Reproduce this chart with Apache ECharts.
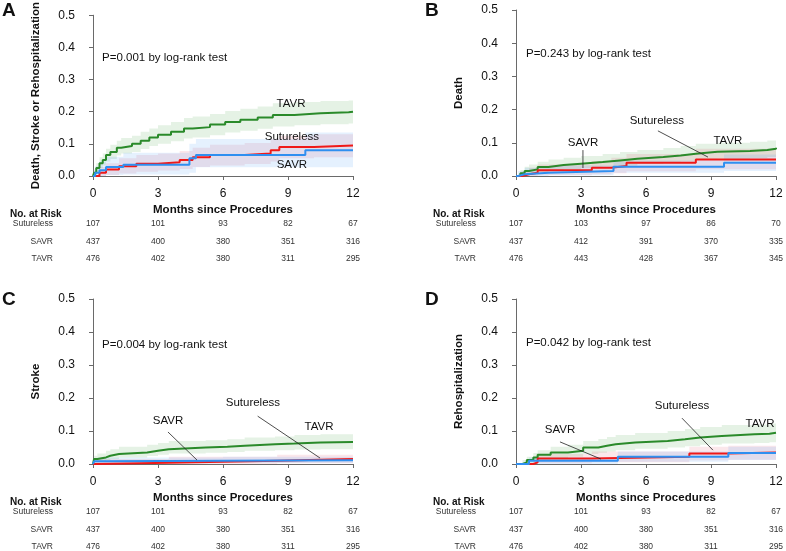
<!DOCTYPE html>
<html><head><meta charset="utf-8">
<script src="https://cdn.jsdelivr.net/npm/echarts@6/dist/echarts.min.js"></script>
<style>html,body{margin:0;padding:0;background:#fff}#c{width:786px;height:551px}</style>
</head><body><div id="c"></div>
<script>
// ---------- DATA ----------
const monthTicks = [0, 3, 6, 9, 12];
const groups = ['Sutureless', 'SAVR', 'TAVR'];
const panelLetters = ['A', 'B', 'C', 'D'];
const yTitles = ['Death, Stroke or Rehospitalization', 'Death', 'Stroke', 'Rehospitalization'];
const pTexts = ['P=0.001 by log-rank test', 'P=0.243 by log-rank test', 'P=0.004 by log-rank test', 'P=0.042 by log-rank test'];

// numbers at risk (A, C, D share the same table)
const riskACD_Sutureless = [107, 101, 93, 82, 67];
const riskACD_SAVR = [437, 400, 380, 351, 316];
const riskACD_TAVR = [476, 402, 380, 311, 295];
const riskB_Sutureless = [107, 103, 97, 86, 70];
const riskB_SAVR = [437, 412, 391, 370, 335];
const riskB_TAVR = [476, 443, 428, 367, 345];

// Kaplan-Meier rows: [month, estimate, lower CI, upper CI]
const A_TAVR = [[0,0,0,0],[0.05,0.01,0,0.02],[0.15,0.025,0.012,0.04],[0.3,0.04,0.025,0.058],[0.45,0.05,0.033,0.07],[0.6,0.065,0.045,0.085],[0.8,0.075,0.053,0.097],[1.1,0.088,0.064,0.11],[1.3,0.093,0.07,0.118],[1.8,0.1,0.075,0.125],[2.2,0.11,0.084,0.138],[2.6,0.12,0.093,0.148],[3.0,0.128,0.1,0.158],[3.6,0.138,0.108,0.168],[4.2,0.148,0.117,0.18],[4.6,0.152,0.12,0.185],[5.4,0.16,0.127,0.193],[6.1,0.168,0.135,0.202],[6.8,0.175,0.141,0.209],[7.6,0.182,0.147,0.216],[8.3,0.19,0.154,0.226],[9.3,0.195,0.158,0.23],[10.5,0.198,0.161,0.233],[11.8,0.2,0.163,0.235],[12,0.2,0.163,0.235]];
const A_Sutureless = [[0,0,0,0],[0.3,0.01,0,0.028],[0.6,0.02,0.003,0.04],[1.2,0.03,0.008,0.055],[2.0,0.038,0.013,0.065],[3.0,0.043,0.017,0.07],[4.0,0.05,0.022,0.078],[4.6,0.058,0.028,0.088],[5.4,0.065,0.033,0.097],[7.0,0.07,0.037,0.103],[8.2,0.08,0.045,0.115],[8.6,0.09,0.055,0.125],[10.2,0.095,0.058,0.13],[12,0.095,0.058,0.13]];
const A_SAVR = [[0,0,0,0],[0.1,0.01,0,0.03],[0.3,0.018,0,0.045],[0.6,0.028,0.003,0.06],[1.4,0.035,0.005,0.072],[4.45,0.055,0.01,0.1],[4.75,0.065,0.027,0.115],[9.8,0.08,0.027,0.135],[12,0.08,0.027,0.135]];

const B_TAVR = [[0,0,0,0],[0.2,0.008,0,0.018],[0.4,0.015,0.003,0.028],[0.6,0.02,0.007,0.035],[1.0,0.027,0.012,0.043],[1.5,0.033,0.017,0.05],[2.2,0.037,0.02,0.055],[3.0,0.042,0.024,0.06],[4.0,0.047,0.028,0.066],[4.8,0.052,0.032,0.072],[5.6,0.057,0.036,0.078],[6.8,0.062,0.04,0.084],[7.6,0.067,0.044,0.09],[8.3,0.073,0.05,0.097],[9.3,0.075,0.052,0.1],[10.8,0.078,0.054,0.103],[11.6,0.082,0.057,0.107],[12,0.085,0.06,0.11]];
const B_Sutureless = [[0,0,0,0],[0.3,0.005,0,0.015],[0.6,0.01,0,0.025],[1.0,0.017,0.002,0.035],[3.5,0.025,0.005,0.045],[4.4,0.03,0.008,0.055],[5.1,0.04,0.014,0.066],[8.3,0.05,0.02,0.082],[12,0.05,0.02,0.082]];
const B_SAVR = [[0,0,0,0],[0.1,0.005,0,0.015],[0.4,0.01,0,0.025],[1.5,0.015,0.002,0.032],[4.5,0.028,0.01,0.047],[9.6,0.04,0.015,0.065],[12,0.04,0.015,0.065]];

const C_TAVR = [[0,0,0,0],[0.05,0.015,0.005,0.025],[0.2,0.02,0.008,0.032],[0.6,0.025,0.012,0.04],[0.8,0.03,0.015,0.045],[1.2,0.035,0.02,0.052],[2.5,0.04,0.024,0.058],[3.0,0.045,0.028,0.064],[3.5,0.05,0.032,0.07],[5.2,0.052,0.034,0.072],[6.2,0.055,0.036,0.075],[7.0,0.06,0.04,0.08],[8.4,0.062,0.042,0.083],[9.3,0.065,0.044,0.088],[10.5,0.067,0.045,0.09],[12,0.067,0.045,0.09]];
const C_Sutureless = [[0,0,0,0],[0.1,0.004,0,0.015],[3.5,0.01,0,0.022],[8.5,0.015,0.002,0.028],[12,0.015,0.002,0.028]];
const C_SAVR = [[0,0,0,0],[0.05,0.008,0,0.018],[0.3,0.01,0.002,0.02],[6.0,0.011,0.003,0.022],[12,0.011,0.003,0.022]];

const D_TAVR = [[0,0,0,0],[0.3,0.005,0,0.012],[0.5,0.012,0.002,0.022],[0.8,0.02,0.007,0.033],[1.0,0.028,0.012,0.042],[1.6,0.035,0.018,0.052],[2.4,0.04,0.022,0.058],[3.1,0.05,0.03,0.07],[3.8,0.055,0.034,0.076],[4.2,0.06,0.038,0.082],[4.6,0.065,0.042,0.088],[5.5,0.07,0.046,0.094],[7.0,0.075,0.05,0.1],[7.8,0.08,0.054,0.106],[8.5,0.085,0.058,0.112],[9.5,0.09,0.062,0.118],[11.0,0.092,0.064,0.12],[11.7,0.095,0.066,0.123],[12,0.095,0.066,0.123]];
const D_Sutureless = [[0,0,0,0],[0.8,0.005,0,0.015],[1.0,0.017,0.002,0.03],[3.5,0.022,0.005,0.038],[8.0,0.032,0.011,0.052],[9.8,0.035,0.013,0.055],[12,0.035,0.013,0.055]];
const D_SAVR = [[0,0,0,0],[0.6,0.01,0,0.02],[4.7,0.022,0.007,0.038],[9.8,0.033,0.012,0.052],[12,0.033,0.012,0.052]];

// annotation labels: [text, month, value]
const annA = [['TAVR', 9.14, 0.226], ['Sutureless', 9.18, 0.123], ['SAVR', 9.18, 0.036]];
const annB = [['SAVR', 3.09, 0.099], ['Sutureless', 6.5, 0.166], ['TAVR', 9.78, 0.105]];
const annC = [['SAVR', 3.46, 0.13], ['Sutureless', 7.38, 0.185], ['TAVR', 10.43, 0.112]];
const annD = [['SAVR', 2.03, 0.103], ['Sutureless', 7.66, 0.176], ['TAVR', 11.26, 0.121]];
// leader lines: [x1, y1, x2, y2] in months / value
const leadA = [];
const leadB = [[3.09, 0.078, 3.09, 0.024], [6.55, 0.136, 8.86, 0.057]];
const leadC = [[3.46, 0.097, 4.8, 0.012], [7.6, 0.145, 10.48, 0.018]];
const leadD = [[2.03, 0.067, 3.92, 0.015], [7.66, 0.139, 9.09, 0.042]];
// p-text anchor: [month, value]
const pPos = [[0.42, 0.367], [0.46, 0.367], [0.42, 0.36], [0.46, 0.367]];

// ---------- LAYOUT / STYLE ----------
const FONT = '"Liberation Sans", Arial, Helvetica, sans-serif';
const panels = [
  { km: { Sutureless: A_Sutureless, SAVR: A_SAVR, TAVR: A_TAVR }, risk: [riskACD_Sutureless, riskACD_SAVR, riskACD_TAVR], ann: annA, lead: leadA },
  { km: { Sutureless: B_Sutureless, SAVR: B_SAVR, TAVR: B_TAVR }, risk: [riskB_Sutureless, riskB_SAVR, riskB_TAVR], ann: annB, lead: leadB },
  { km: { Sutureless: C_Sutureless, SAVR: C_SAVR, TAVR: C_TAVR }, risk: [riskACD_Sutureless, riskACD_SAVR, riskACD_TAVR], ann: annC, lead: leadC },
  { km: { Sutureless: D_Sutureless, SAVR: D_SAVR, TAVR: D_TAVR }, risk: [riskACD_Sutureless, riskACD_SAVR, riskACD_TAVR], ann: annD, lead: leadD }
];
const gridBoxes = [
  { left: 93, top: 10, width: 260, height: 166 },
  { left: 516, top: 10, width: 260, height: 166 },
  { left: 93, top: 299, width: 260, height: 165 },
  { left: 516, top: 299, width: 260, height: 165 }
];
const lineColor = { Sutureless: '#f01818', SAVR: '#2f8ff0', TAVR: '#2a8a2a' };
const bandColor = { Sutureless: 'rgba(220,40,70,0.11)', SAVR: 'rgba(40,140,250,0.12)', TAVR: 'rgba(40,150,40,0.12)' };
const axisGray = '#6a6a6a';

const chart = echarts.init(document.getElementById('c'), null, { renderer: 'canvas' });

// step-shaped confidence band polygon, mapped through the axes with api.coord
function bandRenderer(rows, color) {
  return function (params, api) {
    const upper = [], lower = [];
    for (let k = 0; k < rows.length; k++) {
      const r = rows[k];
      if (k > 0) {
        const prev = rows[k - 1];
        upper.push(api.coord([r[0], prev[3]]));
        lower.push(api.coord([r[0], prev[2]]));
      }
      upper.push(api.coord([r[0], r[3]]));
      lower.push(api.coord([r[0], r[2]]));
    }
    const pts = upper.concat(lower.reverse());
    return { type: 'polygon', shape: { points: pts }, style: { fill: color, stroke: null } };
  };
}

const grid = [], xAxis = [], yAxis = [], series = [];
panels.forEach((p, i) => {
  grid.push(Object.assign({ containLabel: false }, gridBoxes[i]));
  xAxis.push({
    type: 'value', gridIndex: i, min: 0, max: 12, interval: 3, offset: 7,
    axisLine: { show: true, lineStyle: { color: axisGray, width: 1 } },
    axisTick: { show: true, length: 4, lineStyle: { color: axisGray } },
    axisLabel: { fontSize: 12, color: '#111', margin: 5, fontFamily: FONT },
    splitLine: { show: false },
    name: 'Months since Procedures', nameLocation: 'middle', nameGap: 21,
    nameTextStyle: { fontSize: 11.5, fontWeight: 'bold', color: '#111', fontFamily: FONT }
  });
  yAxis.push({
    type: 'value', gridIndex: i, min: 0, max: 0.5, interval: 0.1, offset: 10,
    axisLine: { show: true, lineStyle: { color: axisGray, width: 1 } },
    axisTick: { show: true, length: 4, lineStyle: { color: axisGray } },
    axisLabel: { fontSize: 12, color: '#111', margin: 8, fontFamily: FONT, formatter: v => v.toFixed(1) },
    splitLine: { show: false },
    name: yTitles[i], nameLocation: 'middle', nameGap: 41, nameRotate: 90,
    nameTextStyle: { fontSize: 11.5, fontWeight: 'bold', color: '#111', fontFamily: FONT }
  });
  // bands
  ['TAVR', 'Sutureless', 'SAVR'].forEach(g => {
    const rows = p.km[g];
    series.push({
      type: 'custom', coordinateSystem: 'cartesian2d', xAxisIndex: i, yAxisIndex: i,
      silent: true, z: 1, clip: true,
      data: [[rows[0][0], rows[0][2]]],
      renderItem: bandRenderer(rows, bandColor[g])
    });
  });
  // estimate lines
  ['TAVR', 'Sutureless', 'SAVR'].forEach(g => {
    series.push({
      type: 'line', xAxisIndex: i, yAxisIndex: i, step: 'end', silent: true,
      showSymbol: false, symbol: 'none', z: 3,
      lineStyle: { width: 2, color: lineColor[g] },
      data: p.km[g].map(r => [r[0], r[1]])
    });
  });
});

chart.setOption({ animation: false, backgroundColor: '#fff', grid, xAxis, yAxis, series });

// ---------- TEXT / ANNOTATIONS ----------
const graphic = [];
const toPx = (i, x, y) => chart.convertToPixel({ xAxisIndex: i, yAxisIndex: i }, [x, y]);
panels.forEach((p, i) => {
  const gb = gridBoxes[i];
  const bottom = gb.top + gb.height;
  graphic.push({ type: 'text', left: gb.left - 91, top: gb.top - 9,
    style: { text: panelLetters[i], font: 'bold 19px ' + FONT, fill: '#111' } });
  const pp = toPx(i, pPos[i][0], pPos[i][1]);
  graphic.push({ type: 'text', x: pp[0], y: pp[1],
    style: { text: pTexts[i], font: '11.5px ' + FONT, fill: '#111', textAlign: 'left', textVerticalAlign: 'middle' } });
  p.ann.forEach(a => {
    const q = toPx(i, a[1], a[2]);
    graphic.push({ type: 'text', x: q[0], y: q[1], z: 10,
      style: { text: a[0], font: '11.5px ' + FONT, fill: '#111', textAlign: 'center', textVerticalAlign: 'middle' } });
  });
  p.lead.forEach(l => {
    const a = toPx(i, l[0], l[1]), b = toPx(i, l[2], l[3]);
    graphic.push({ type: 'line', z: 10, shape: { x1: a[0], y1: a[1], x2: b[0], y2: b[1] },
      style: { stroke: '#222', lineWidth: 0.8 } });
  });
  graphic.push({ type: 'text', x: gb.left - 83, y: bottom + 38,
    style: { text: 'No. at Risk', font: 'bold 10px ' + FONT, fill: '#111', textAlign: 'left', textVerticalAlign: 'middle' } });
  const rowOff = [48, 65.5, 83];
  groups.forEach((g, r) => {
    graphic.push({ type: 'text', x: gb.left - 40, y: bottom + rowOff[r],
      style: { text: g, font: '8.5px ' + FONT, fill: '#333', textAlign: 'right', textVerticalAlign: 'middle' } });
    monthTicks.forEach((m, k) => {
      const q = toPx(i, m, 0);
      graphic.push({ type: 'text', x: q[0], y: bottom + rowOff[r],
        style: { text: String(p.risk[r][k]), font: '8.5px ' + FONT, fill: '#333', textAlign: 'center', textVerticalAlign: 'middle' } });
    });
  });
});
chart.setOption({ graphic });
</script>
</body></html>
